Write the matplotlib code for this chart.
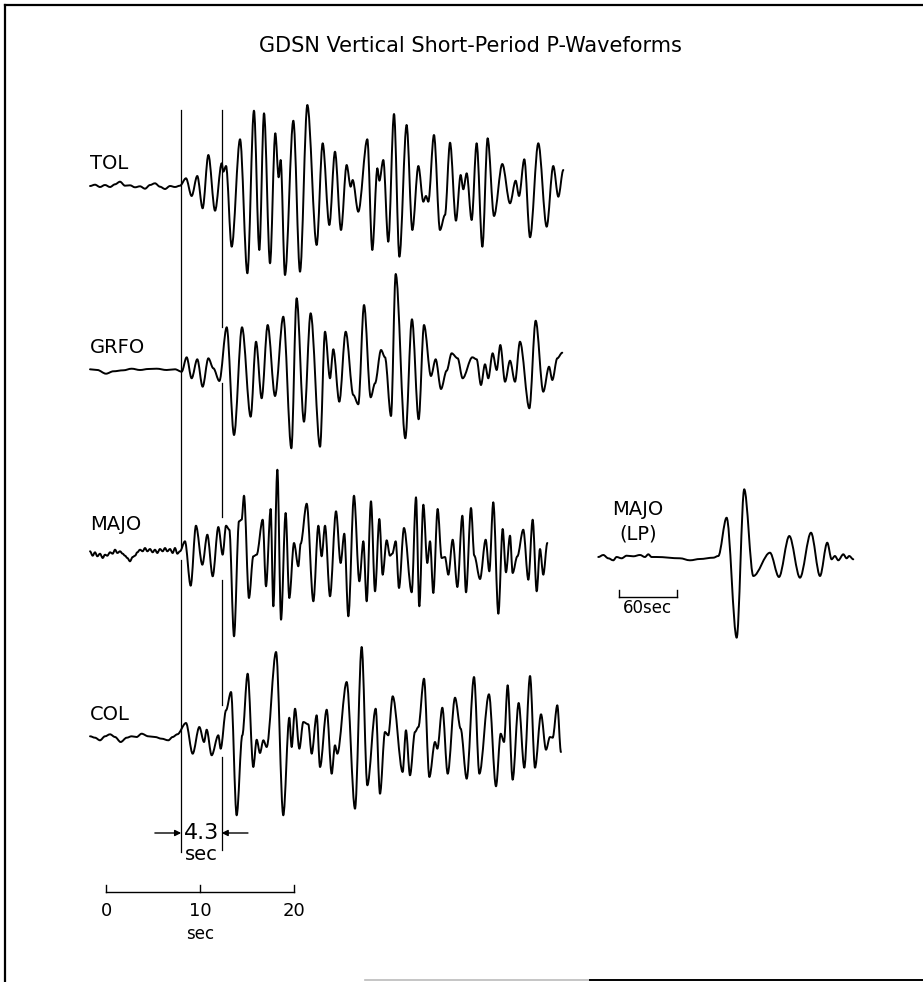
import matplotlib.pyplot as plt
from matplotlib.path import Path
from matplotlib.patches import PathPatch
from matplotlib.lines import Line2D

plt.rcParams['font.family'] = ['DejaVu Sans']

# Short-period traces: times (s) and amplitudes of the turning points of each record
TOL_T = [-1.70, -1.17, -0.64, -0.11, 0.43, 0.96, 1.49, 2.02, 2.55, 3.09, 3.62, 4.15, 4.68, 5.21, 5.74, 6.28, 6.81, 7.34, 7.87,
         8.51, 9.11, 9.71, 10.28, 10.89, 11.60, 12.31, 12.48, 12.77, 13.37, 14.26, 15.04, 15.74, 16.31, 16.81, 17.45,
         18.01, 18.37, 18.58, 19.04, 19.93, 20.64, 21.42, 22.41, 23.05, 23.76,
         24.36, 25.00, 25.60, 26.03, 26.24, 26.84, 27.80, 28.33, 28.87, 29.08, 29.50, 30.03, 30.64, 31.21, 31.98, 32.59,
         33.23, 33.76, 34.04, 34.29, 34.89, 35.53, 36.06, 36.60, 37.23, 37.73, 38.01, 38.37, 38.90, 39.43, 40.04, 40.60,
         41.28, 42.16, 42.98, 43.58, 43.94, 44.50, 45.11, 45.99, 46.88, 47.58, 48.12, 48.65]
TOL_A = [1.0, 2.3, 0, 2, 0, 2.7, 5.3, 1.3, 1.7, -0.3, 0.7, -1.7, 2, 3.7, 0.3, -2, 1, 0, 1.3,
         8.7, -9, 11, -21.3, 32, -23.7, 23.7, 15.3, 21, -59.7, 47.7, -86.3, 76.3, -63, 73.7, -76.3,
         53.7, 9.7, 27, -88, 66.3, -84.7, 82, -58, 43.7, -38,
         35.3, -43, 22, 0.3, 7, -24.7, 47.7, -63, 18.7, 6.3, 27, -54.7, 73, -69.7, 62, -43,
         21, -14.7, -9, -14.7, 52, -43, -28, 44.3, -33.7, 12, -2.3, 13.7, -33, 43.7, -59.7, 48.7,
         -29, 23, -16.3, 6.3, -9, 27.7, -50.3, 43.7, -39.7, 21, -9.7, 17]

GRFO_T = [-1.70, -0.92, 0, 0.78, 1.84, 2.73, 3.62, 4.50, 5.39, 6.45, 7.34, 8.05,
          8.58, 9.11, 9.71, 10.28, 10.89, 11.42, 12.06, 12.84, 13.62, 14.47, 15.39, 15.96, 16.56, 17.20, 17.98,
          18.86, 19.72, 20.28, 21.06, 21.77, 22.77, 23.30, 23.83,
          24.18, 24.82, 25.50, 26.31, 26.84, 27.45, 28.16, 28.62, 29.26, 29.68, 30.32, 30.82, 31.84, 32.55,
          33.26, 33.83, 34.57, 35.07, 35.64, 36.24, 36.77, 37.41, 37.94, 38.97, 39.43, 39.89, 40.32, 40.67,
          41.13, 41.56, 41.95, 42.45, 42.98, 43.51, 44.04, 45.04, 45.71, 46.52, 47.13, 47.48, 48.01, 48.54]
GRFO_A = [0.7, 0, -3.7, -1.3, -0.3, 1.3, 0, 1, 1.3, 0, 0.7, -1.7,
          12.7, -8.3, 10.7, -16.7, 11.7, 1.7, -11, 42.7, -65, 42.7, -46.7, 28.3, -28.3, 45, -26,
          53.3, -78.3, 71.7, -51.7, 56.7, -76.7, 38.3, -8.3,
          20.7, -31.7, 38.3, -25, -34.3, 65, -27.3, -13.3, 20, 12.7, -46, 96, -68.3, 50.7,
          -49.3, 45, -6, 10.7, -19, -0.7, 16.7, 11.7, -8.3, 12.7, 10.7, -15, 5.7, -8.3,
          16.7, 0, 25, -11.7, 9.3, -11.7, 28.3, -38.3, 49.3, -21.7, 3.3, -10, 11.7, 17.3]

MAJO_T = [-1.70, -1.42, -1.17, -0.92, -0.64, -0.35, -0.11, 0.14, 0.43, 0.71, 0.96, 1.21, 1.49, 1.77, 2.02, 2.27,
          2.55, 2.84, 3.09, 3.33, 3.62, 3.90, 4.15, 4.40, 4.68, 4.96, 5.21, 5.46, 5.74, 6.03, 6.28, 6.52, 6.81,
          7.09, 7.34, 7.59, 7.87,
          8.40, 9.01, 9.57, 10.25, 10.78, 11.35, 11.95, 12.41, 12.77, 13.12, 13.62, 14.15, 14.43, 14.68, 15.21,
          15.67, 16.03, 16.67, 17.02, 17.52, 17.80, 18.23, 18.62, 19.11, 19.50, 20.00, 20.46, 20.71, 21.35,
          22.06, 22.59, 22.94, 23.30, 23.83,
          24.47, 24.96, 25.35, 25.78, 26.38, 26.95, 27.38, 27.73, 28.19, 28.62, 29.08, 29.43, 29.86, 30.21,
          30.46, 30.82, 31.17, 31.70, 32.52, 32.98, 33.33, 33.76, 34.18, 34.47, 34.82, 35.28, 35.71, 36.06,
          36.42, 36.88, 37.38, 37.91, 38.30, 38.83, 39.18, 39.79, 40.39, 40.78, 41.20, 41.74, 42.20, 42.55,
          42.98, 43.26, 43.76, 44.39, 44.93, 45.39, 45.82, 46.17, 46.52, 46.95]
MAJO_A = [1.7, -2.7, 0.7, -3.3, -0.7, -5, -1.7, -2.7, 0.7, -0.7, 3.3, 0, 1.7, -0.7, -2.7, -5,
          -8.3, -4, -2.7, 0.7, 3.3, 1.7, 5, 1.7, 4, 0.7, 3.3, 0, 4, 1.7, 5, 1.7, 4,
          0, 5, -0.7, 1.7,
          11.7, -32.7, 27.3, -11.7, 18.3, -23.3, 26, -1.7, 27.3, 23.3, -83.3, 31.7, 33.3, 57.3, -45,
          -3.3, -1.7, 33.3, -33.3, 44, -53.3, 83.3, -66.7, 40, -45, 10, -13.3, 9.3, 49.3,
          -48.3, 27.3, -3.3, 27.3, -43.3,
          41.7, -10, 19.3, -63.3, 57.3, -28.3, 11.7, -48.3, 51.7, -38.3, 34, -21.7, 12.7, -2.7,
          -0.7, 11.7, -35, 25, -39.3, 55.7, -53.3, 48.3, -10, 11.7, -40, 44, -5, -4,
          -21.7, 13.3, -34, 37.3, -39.3, 45, -2.7, -26, 13.3, -18.3, 50.7, -60.7, 24, -19.3,
          17.3, -20, -3.3, 23.3, -26.7, 33.3, -38.3, 4, -21.7, 10]

COL_T = [-1.70, -1.17, -0.64, -0.11, 0.43, 0.96, 1.56, 2.20, 2.73, 3.26, 3.79, 4.50, 5.21, 5.92, 6.63, 7.09, 7.59,
         8.51, 9.22, 9.93, 10.43, 10.71, 11.24, 11.95, 12.20, 12.77, 13.30, 13.90, 14.50, 15.07, 15.67, 16.03,
         16.38, 16.74, 17.09, 18.09, 18.86, 19.50, 19.75, 20.11, 20.57, 20.99, 21.52, 21.88, 22.41, 22.77,
         23.48, 24.01,
         24.36, 24.61, 25.60, 26.49, 27.20, 27.80, 28.69, 29.15, 29.68, 30.03, 30.50, 31.56, 31.91, 32.34,
         32.87, 33.23, 33.83, 34.40, 35.00, 35.25, 35.78, 36.35, 37.13, 37.73, 38.37, 39.15, 39.72, 40.74,
         41.49, 41.99, 42.34, 42.73, 43.26, 43.90, 44.50, 45.11, 45.64, 46.28, 46.81, 47.23, 47.52, 48.01, 48.40]
COL_A = [0.7, -0.7, -3.3, 0.7, 2.7, 0, -5, -0.7, 0.7, 0, 3.3, 0.7, 0, -1.7, -3.3, 0, 2.7,
         14, -16.7, 10, -5, 7.3, -18.3, 1.7, -11.7, 26.7, 45, -78.3, 1.7, 63.3, -30, -2.7,
         -16, -3.3, -10, 85, -78.3, 19.3, -10, 28.3, -11.7, 15, 12.7, -16.7, 21.7, -30,
         27.3, -36.7,
         -8.3, -16.7, 55, -71.7, 90, -48.3, 28.3, -56.7, 5, 1.7, 40.7, -35, 6.7, -38.3,
         5, 10, 58.3, -40, -5, -11.7, 29.3, -36.7, 39.3, 8.3, -41.7, 60, -36.7, 42.7,
         -49.3, 3.3, -5, 51.7, -42.7, 34, -30.7, 61, -30.7, 22.7, -12.7, 0, -0.7, 31.7, -15]

# P onset and the pP delay marked between the two vertical lines
P_TIME = 8.0
PP_DELAY = 4.3
SCALE_TICKS = [0, 10, 20]

# Long-period MAJO record (s, amplitude)
LP_T = [-1.1, 4.1, 9.2, 14.4, 17.8, 23.0, 28.2, 35.1, 42.0, 47.1, 50.6, 54.0, 59.2, 83.3, 93.6, 103.9,
        117.7, 122.9, 131.5, 141.9, 149.7, 159.1, 176.3, 185.6, 196.3, 207.3, 218.7, 228.0, 235.5,
        240.0, 243.4, 246.9, 252.1, 255.5, 258.2, 262.4]
LP_A = [0, 2, -1.3, -3.3, 0, -1.3, 1.3, 0.7, 2, 0, 2.7, 0, 0, -1.3, -3.3, -2,
        -0.7, 1, 39.3, -80.7, 67.7, -19, 4.3, -20, 21, -20.7, 24.3, -19, 14.3,
        -2.3, 1, -3.3, 2.7, -1.3, 1, -2.3]
LP_BAR = [20, 80]


def trace_path(t, a, base):
    # smooth half-cycles between successive turning points
    verts = [(t[0], base + a[0])]
    codes = [Path.MOVETO]
    for i in range(len(t) - 1):
        d = (t[i + 1] - t[i]) / 3.0
        verts += [(t[i] + d, base + a[i]), (t[i + 1] - d, base + a[i + 1]), (t[i + 1], base + a[i + 1])]
        codes += [Path.CURVE4] * 3
    return Path(verts, codes)


W, H = 923, 982
fig = plt.figure(figsize=(W / 100, H / 100), dpi=100)
fig.patch.set_facecolor('white')

# main panel: x in seconds, y in pixels from the bottom
px_per_sec = 9.4
x_origin = 106
ax = fig.add_axes([0, 0, 1, 1])
ax.set_xlim(-x_origin / px_per_sec, (W - x_origin) / px_per_sec)
ax.set_ylim(0, H)
ax.axis('off')

stations = [('TOL', TOL_T, TOL_A, 795, 24),
            ('GRFO', GRFO_T, GRFO_A, 612, 23),
            ('MAJO', MAJO_T, MAJO_A, 429, 28),
            ('COL', COL_T, COL_A, 245, 22)]

for name, t, a, base, lab in stations:
    ax.add_patch(PathPatch(trace_path(t, a, base), fill=False, lw=1.4, edgecolor='black',
                           capstyle='round', joinstyle='round'))
    ax.text(t[0], base + lab, name, fontsize=14, ha='left', va='center')

# P and pP marker lines, broken where they meet the traces
p_segments = [(130, 422), (435, 872)]
pp_segments = [(132, 225), (277, 402), (465, 599), (655, 872)]
for y0, y1 in p_segments:
    ax.plot([P_TIME, P_TIME], [y0, y1], color='black', lw=0.9)
for y0, y1 in pp_segments:
    ax.plot([P_TIME + PP_DELAY] * 2, [y0, y1], color='black', lw=0.9)

# 4.3 sec delay annotation
y_arr = 149
ax.annotate('', xy=(P_TIME, y_arr), xytext=(P_TIME - 2.8, y_arr),
            arrowprops=dict(arrowstyle='-|>', color='black', lw=1.0, mutation_scale=9, shrinkA=0, shrinkB=0))
ax.annotate('', xy=(P_TIME + PP_DELAY, y_arr), xytext=(P_TIME + PP_DELAY + 2.8, y_arr),
            arrowprops=dict(arrowstyle='-|>', color='black', lw=1.0, mutation_scale=9, shrinkA=0, shrinkB=0))
ax.text(P_TIME + PP_DELAY / 2, y_arr, f'{PP_DELAY}', fontsize=16, ha='center', va='center')
ax.text(P_TIME + PP_DELAY / 2, 127, 'sec', fontsize=14, ha='center', va='center')

# time scale bar
ax.plot([SCALE_TICKS[0], SCALE_TICKS[-1]], [90, 90], color='black', lw=1.0)
for tk in SCALE_TICKS:
    ax.plot([tk, tk], [90, 97], color='black', lw=1.0)
    ax.text(tk, 71, str(tk), fontsize=13, ha='center', va='center')
ax.text(SCALE_TICKS[1], 48, 'sec', fontsize=12, ha='center', va='center')

# title
fig.text(470 / W, 1 - 46 / H, 'GDSN Vertical Short-Period P-Waveforms', fontsize=15, ha='center', va='center')

# long-period record on its own time scale
ax_lp = fig.add_axes([580 / W, 1 - 650 / H, 300 / W, 180 / H])
ax_lp.set_xlim(-20, 290)
ax_lp.set_ylim(-93, 87)
ax_lp.axis('off')
ax_lp.add_patch(PathPatch(trace_path(LP_T, LP_A, 0), fill=False, lw=1.4, edgecolor='black',
                          capstyle='round', joinstyle='round'))
ax_lp.text(40, 47, 'MAJO', fontsize=14, ha='center', va='center')
ax_lp.text(40, 23, '(LP)', fontsize=14, ha='center', va='center')
ax_lp.plot(LP_BAR, [-40, -40], color='black', lw=1.0)
for tk in LP_BAR:
    ax_lp.plot([tk, tk], [-40, -33], color='black', lw=1.0)
ax_lp.text(sum(LP_BAR) / 2, -51, f'{LP_BAR[1] - LP_BAR[0]}sec', fontsize=12, ha='center', va='center')

# frame
frame = [([5 / W, 5 / W], [0, 1 - 5 / H], 'black', 1.6),
         ([5 / W, 1], [1 - 5 / H, 1 - 5 / H], 'black', 1.6),
         ([365 / W, 590 / W], [2 / H, 2 / H], '#bbbbbb', 1.2),
         ([590 / W, 1], [2 / H, 2 / H], 'black', 1.4)]
for xs, ys, c, lw in frame:
    fig.add_artist(Line2D(xs, ys, transform=fig.transFigure, color=c, lw=lw))

plt.savefig('out.png', dpi=100)
